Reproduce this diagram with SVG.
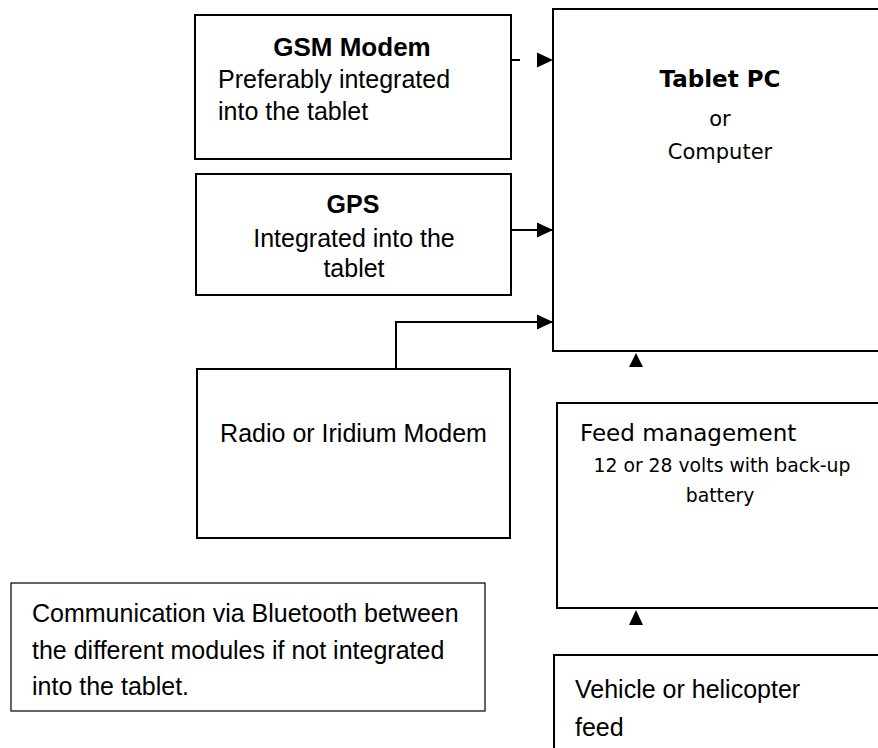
<svg xmlns="http://www.w3.org/2000/svg" width="878" height="748" viewBox="0 0 878 748">
<style>
.box{fill:#fff;stroke:#000;stroke-width:2}
.thin{fill:#fff;stroke:#000;stroke-width:1.2}
.cal{font-family:"Liberation Sans",Arial,sans-serif;font-size:25px;fill:#000}
.calb{font-family:"Liberation Sans",Arial,sans-serif;font-weight:bold;fill:#000}
.tah{font-family:"DejaVu Sans",Verdana,sans-serif;fill:#000}
.mid{text-anchor:middle}
.con{fill:none;stroke:#000;stroke-width:2}
.head{fill:#000;stroke:none}
</style>
<defs>
<marker id="arr" markerUnits="userSpaceOnUse" markerWidth="16" markerHeight="16" refX="16" refY="8" orient="auto">
<path d="M0,0.5 L16,8 L0,15.5 Z" fill="#000"/>
</marker>
</defs>
<rect width="878" height="748" fill="#fff"/>
<g id="connectors">
<line class="con" x1="511" y1="60" x2="520" y2="60"/>
<polygon class="head" points="537,52.5 553,60 537,67.5"/>
<line class="con" x1="511" y1="230" x2="553" y2="230" marker-end="url(#arr)"/>
<polyline class="con" points="396,369 396,322 553,322" marker-end="url(#arr)"/>
<polygon class="head" points="636,353 643,367 629,367"/>
<polygon class="head" points="636,610 643,625 629,625"/>
</g>
<g id="gsm">
<rect class="box" x="195" y="15" width="316" height="144"/>
<text class="calb mid" x="352" y="56" font-size="26">GSM Modem</text>
<text class="cal" x="218" y="88">Preferably integrated</text>
<text class="cal" x="218" y="120">into the tablet</text>
</g>
<g id="gps">
<rect class="box" x="196" y="174" width="315" height="121"/>
<text class="calb mid" x="353" y="213" font-size="25">GPS</text>
<text class="cal mid" x="354" y="247">Integrated into the</text>
<text class="cal mid" x="354" y="277">tablet</text>
</g>
<g id="radio">
<rect class="box" x="197" y="369" width="313" height="169"/>
<text class="cal mid" x="353.5" y="442">Radio or Iridium Modem</text>
</g>
<g id="tablet">
<rect class="box" x="553" y="9" width="340" height="342"/>
<text class="tah mid" x="720" y="87" font-size="23" font-weight="bold">Tablet PC</text>
<text class="tah mid" x="720" y="126" font-size="21">or</text>
<text class="tah mid" x="720" y="159" font-size="21">Computer</text>
</g>
<g id="feed">
<rect class="box" x="557" y="403" width="340" height="205"/>
<text class="tah" x="580" y="441" font-size="23">Feed management</text>
<text class="tah mid" x="722" y="472" font-size="18.8">12 or 28 volts with back-up</text>
<text class="tah mid" x="720" y="502" font-size="18.8">battery</text>
</g>
<g id="vehicle">
<rect class="box" x="554" y="655" width="340" height="110"/>
<text class="cal" x="575" y="698" font-size="27.4">Vehicle or helicopter</text>
<text class="cal" x="575" y="736" font-size="27.4">feed</text>
</g>
<g id="note">
<rect class="thin" x="11" y="583" width="474" height="128"/>
<text class="cal" x="32" y="622">Communication via Bluetooth between</text>
<text class="cal" x="32" y="659">the different modules if not integrated</text>
<text class="cal" x="32" y="695">into the tablet.</text>
</g>
</svg>
